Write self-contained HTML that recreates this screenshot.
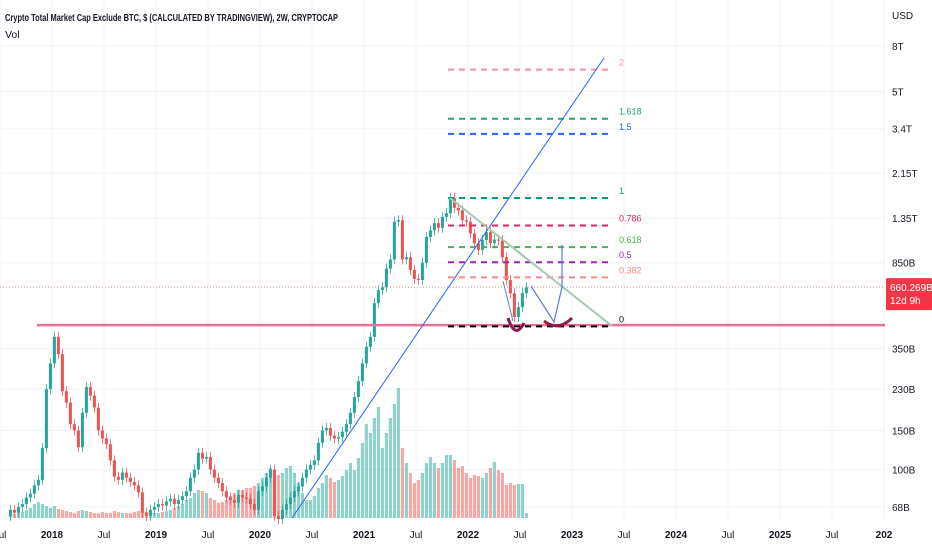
<!DOCTYPE html>
<html><head><meta charset="utf-8"><style>
html,body{margin:0;padding:0;background:#fff;width:932px;height:550px;overflow:hidden}
svg{display:block;font-family:"Liberation Sans",sans-serif}
</style></head><body>
<svg id="c" width="932" height="550" xmlns="http://www.w3.org/2000/svg">
<rect width="932" height="550" fill="#fff"/>
<g id="grid"></g>
<g id="vol"></g>
<g id="candles"></g>
<g id="draw"></g>
<g id="axes"></g>
<text x="5" y="21" font-size="10.5" font-weight="bold" fill="#131722" textLength="333" lengthAdjust="spacingAndGlyphs">Crypto Total Market Cap Exclude BTC, $ (CALCULATED BY TRADINGVIEW), 2W, CRYPTOCAP</text>
<text x="5" y="38" font-size="10.5" fill="#131722">Vol</text>
</svg>
<script>
const closes=[66,64,68,70,75,78,85,90,125,230,300,395,330,225,200,160,150,126,180,235,215,190,150,138,130,110,93,90,97,92,88,85,79,64,62,66,68,70,69,72,74,70,73,76,80,92,100,119,112,114,100,92,87,80,75,73,71,77,75,74,70,66,80,84,92,100,62,60,66,70,75,80,84,92,100,105,110,132,150,154,142,138,140,148,160,180,212,250,300,356,395,560,640,660,800,880,1300,1320,880,900,790,720,711,850,1110,1190,1280,1220,1365,1420,1660,1500,1460,1320,1300,1150,1040,970,1075,1167,1040,1080,1070,900,710,620,485,537,621,660];
const firstOpen=62;
const volumes=[3,4,5,6,8,10,14,16,14,12,10,12,9,8,7,6,5,7,8,7,6,5,5,6,5,5,7,6,5,5,5,6,7,8,6,5,5,5,6,7,8,10,12,14,18,20,25,28,27,25,20,18,15,16,18,22,25,28,28,30,30,32,35,40,45,50,48,43,45,50,52,45,35,25,18,18,22,30,35,43,40,36,38,42,48,55,48,60,75,94,85,100,111,70,85,100,114,130,70,55,45,35,38,45,55,61,55,50,55,63,63,58,50,52,45,40,43,42,40,45,50,56,48,45,33,35,33,34,34,5];
const startTime=2017.6;
const priceTicks=[8000,5000,3400,2150,1350,850,350,230,150,100,68];
const priceTickLabels=["8T","5T","3.4T","2.15T","1.35T","850B","350B","230B","150B","100B","68B"];
const timeTicks=[2017.5,2018,2018.5,2019,2019.5,2020,2020.5,2021,2021.5,2022,2022.5,2023,2023.5,2024,2024.5,2025,2025.5,2026];
const timeTickLabels=["Jul","2018","Jul","2019","Jul","2020","Jul","2021","Jul","2022","Jul","2023","Jul","2024","Jul","2025","Jul","202"];
const fibLevels=[0,0.382,0.5,0.618,0.786,1,1.5,1.618,2];
const fibLabels=["0","0.382","0.5","0.618","0.786","1","1.5","1.618","2"];
const fibColors=["#000000","#f28b8b","#9c27b0","#4caf50","#e0245e","#089981","#2962ff","#22a67a","#f48fb1"];
const fibLow=440, fibHigh=1660;
const supportPrice=446, lastPrice=660.269;

const NS="http://www.w3.org/2000/svg";
const yP=p=>46+Math.log10(8000/p)*222.6;
const xT=t=>52+(t-2018)*104;
const VB=518, PR=885;
function mk(tag,attrs,parent){const e=document.createElementNS(NS,tag);for(const k in attrs)e.setAttribute(k,attrs[k]);parent.appendChild(e);return e;}
const G=id=>document.getElementById(id);

priceTicks.forEach(p=>{const l=mk('line',{x1:0,x2:PR,y1:yP(p),y2:yP(p),stroke:'#f0f3fa','stroke-width':1},G('grid'));

});
timeTicks.forEach(t=>{const l=mk('line',{x1:xT(t),x2:xT(t),y1:0,y2:520,stroke:'#f0f3fa','stroke-width':1},G('grid'));

});

closes.forEach((c,i)=>{
 const o=i?closes[i-1]:firstOpen; const up=c>=o; const x=xT(startTime+i/26);
 const col=up?'#26a69a':'#ef5350';
 const v=mk('rect',{x:x-1.6,y:VB-volumes[i],width:3.2,height:volumes[i],fill:up?'rgba(38,166,154,0.5)':'rgba(239,83,80,0.5)'},G('vol'));
 
 
 const yt=yP(Math.max(o,c)), yb=yP(Math.min(o,c));
 const w=mk('line',{x1:x,x2:x,y1:yt-5,y2:yb+5,stroke:col,'stroke-width':0.8},G('candles'));
 
 
 const b=mk('rect',{x:x-1.5,y:yt,width:3,height:Math.max(1,yb-yt),fill:col},G('candles'));
 
 
});

const D=G('draw');
let e=mk('line',{x1:0,x2:PR,y1:yP(lastPrice),y2:yP(lastPrice),stroke:'#f28b8b','stroke-width':1,'stroke-dasharray':'1 2'},D);


e=mk('line',{x1:37,x2:PR,y1:yP(supportPrice),y2:yP(supportPrice),stroke:'#e8709a','stroke-width':2.5},D);


const y0=yP(fibLow), y1=yP(fibHigh);
fibLevels.forEach((lv,k)=>{const y=y0+lv*(y1-y0);
 const l=mk('line',{x1:448,x2:610,y1:y,y2:y,stroke:fibColors[k],'stroke-width':2,'stroke-dasharray':'6 5'},D);
 
 
 const t=mk('text',{x:619,y:y-4,'font-size':9,fill:fibColors[k]},D);t.textContent=fibLabels[k];
 
 
});
e=mk('line',{x1:292,y1:518,x2:604,y2:58,stroke:'#2962ff','stroke-width':1},D);


e=mk('line',{x1:450,y1:198,x2:612,y2:326,stroke:'#a5c9b0','stroke-width':2},D);


e=mk('polyline',{points:'503,281 513,321',fill:'none',stroke:'#5b7be8','stroke-width':1},D);


e=mk('polyline',{points:'531,286 554,322 562,287 562,245',fill:'none',stroke:'#5b7be8','stroke-width':1.2},D);


e=mk('path',{d:'M508,318 Q515,340 524,323',fill:'none',stroke:'#8b1a4f','stroke-width':3},D);


e=mk('path',{d:'M544,321 Q558,332 572,318',fill:'none',stroke:'#8b1a4f','stroke-width':3},D);



const A=G('axes');
e=mk('text',{x:892,y:19,'font-size':10,fill:'#131722'},A);e.textContent='USD';


priceTicks.forEach((p,k)=>{const t=mk('text',{x:892,y:yP(p)+4,'font-size':10,fill:'#131722'},A);t.textContent=priceTickLabels[k];

});
timeTicks.forEach((tt,k)=>{const t=mk('text',{x:xT(tt),y:538,'font-size':10,fill:'#131722','text-anchor':'middle','font-weight':timeTickLabels[k]==='Jul'?'normal':'bold'},A);t.textContent=timeTickLabels[k];

});
const py=yP(lastPrice);
e=mk('rect',{x:886,y:py-9,width:46,height:32,fill:'#f23645',rx:1},A);


e=mk('text',{x:890,y:py+4,'font-size':10,fill:'#fff'},A);e.textContent='660.269B';


e=mk('text',{x:890,y:py+17,'font-size':10,fill:'#fff'},A);e.textContent='12d 9h';


</script>
</body></html>
